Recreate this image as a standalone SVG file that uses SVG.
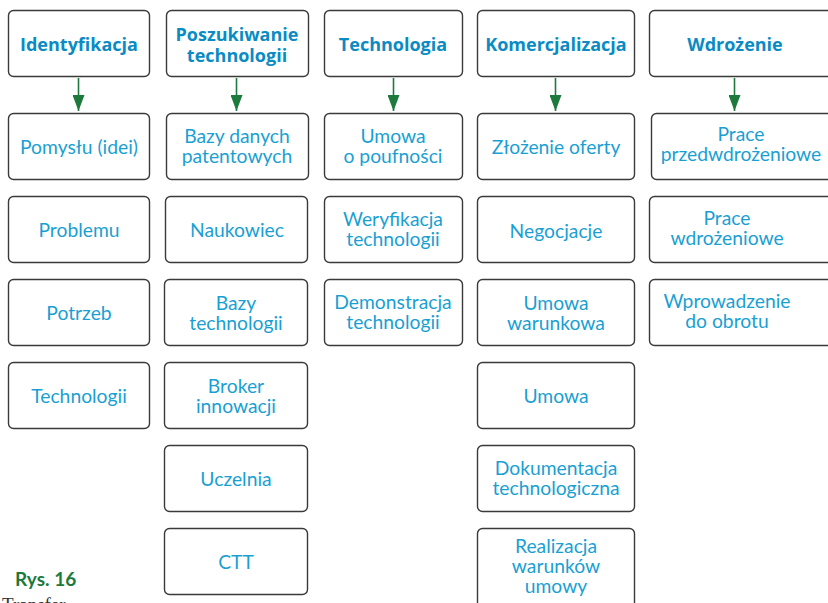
<svg xmlns="http://www.w3.org/2000/svg" width="828" height="603" viewBox="0 0 828 603">
  <style>
    .box { fill: #ffffff; stroke: #3a3a3a; stroke-width: 1.4; }
    .hd { font-family: "Open Sans", "Liberation Sans", sans-serif; font-weight: 700; font-size: 18px; fill: #0a8bc4; text-anchor: middle; }
    .tx { font-family: Lato, "Liberation Sans", sans-serif; font-size: 19.3px; fill: #1a9fd3; text-anchor: middle; }
    .arr { stroke: #1b7a3c; stroke-width: 1.6; fill: none; }
    .cap { font-family: Lato, "Liberation Sans", sans-serif; font-weight: 700; font-size: 19px; fill: #1b7a3c; }
    .sub { font-family: "Liberation Serif", serif; font-size: 19px; fill: #333333; }
  </style>
  <defs>
    <marker id="tri" viewBox="0 0 16 12" markerWidth="16" markerHeight="12" refX="16" refY="6" orient="auto" markerUnits="userSpaceOnUse">
      <path d="M0,0 L16,6 L0,12 Z" fill="#1b7a3c"/>
    </marker>
  </defs>

  <!-- Column 1: Identyfikacja -->
  <g id="identyfikacja"><rect class="box" x="8.5" y="10.5" width="141" height="66" rx="5"/><text class="hd" x="79" y="51">Identyfikacja</text></g>
  <g id="pomyslu"><rect class="box" x="8.5" y="113.5" width="141" height="66" rx="5"/><text class="tx" x="79" y="154">Pomysłu (idei)</text></g>
  <g id="problemu"><rect class="box" x="8.5" y="196.5" width="141" height="66" rx="5"/><text class="tx" x="79" y="237">Problemu</text></g>
  <g id="potrzeb"><rect class="box" x="8.5" y="279.5" width="141" height="66" rx="5"/><text class="tx" x="79" y="320">Potrzeb</text></g>
  <g id="technologii"><rect class="box" x="8.5" y="362.5" width="141" height="66" rx="5"/><text class="tx" x="79" y="403">Technologii</text></g>

  <!-- Column 2: Poszukiwanie technologii -->
  <g id="poszukiwanie"><rect class="box" x="166.5" y="10.5" width="142" height="66" rx="5"/><text class="hd" x="237" y="41">Poszukiwanie</text><text class="hd" x="237" y="62">technologii</text></g>
  <g id="bazy-patentowe"><rect class="box" x="166.5" y="113.5" width="142" height="66" rx="5"/><text class="tx" x="237" y="143">Bazy danych</text><text class="tx" x="237" y="163">patentowych</text></g>
  <g id="naukowiec"><rect class="box" x="165.5" y="196.5" width="142" height="66" rx="5"/><text class="tx" x="237" y="237">Naukowiec</text></g>
  <g id="bazy-technologii"><rect class="box" x="164.5" y="279.5" width="143" height="66" rx="5"/><text class="tx" x="236" y="310">Bazy</text><text class="tx" x="236" y="330">technologii</text></g>
  <g id="broker"><rect class="box" x="164.5" y="362.5" width="143" height="66" rx="5"/><text class="tx" x="236" y="393">Broker</text><text class="tx" x="236" y="413">innowacji</text></g>
  <g id="uczelnia"><rect class="box" x="164.5" y="445.5" width="143" height="66" rx="5"/><text class="tx" x="236" y="486">Uczelnia</text></g>
  <g id="ctt"><rect class="box" x="164.5" y="528.5" width="143" height="66" rx="5"/><text class="tx" x="236" y="569">CTT</text></g>

  <!-- Column 3: Technologia -->
  <g id="technologia"><rect class="box" x="324.5" y="10.5" width="138" height="66" rx="5"/><text class="hd" x="393" y="51">Technologia</text></g>
  <g id="umowa-poufnosci"><rect class="box" x="324.5" y="113.5" width="138" height="66" rx="5"/><text class="tx" x="393" y="143">Umowa</text><text class="tx" x="393" y="163">o poufności</text></g>
  <g id="weryfikacja"><rect class="box" x="324.5" y="196.5" width="138" height="66" rx="5"/><text class="tx" x="393" y="226">Weryfikacja</text><text class="tx" x="393" y="246">technologii</text></g>
  <g id="demonstracja"><rect class="box" x="324.5" y="279.5" width="138" height="66" rx="5"/><text class="tx" x="393" y="309">Demonstracja</text><text class="tx" x="393" y="329">technologii</text></g>

  <!-- Column 4: Komercjalizacja -->
  <g id="komercjalizacja"><rect class="box" x="477.5" y="10.5" width="157" height="66" rx="5"/><text class="hd" x="556" y="51">Komercjalizacja</text></g>
  <g id="zlozenie-oferty"><rect class="box" x="477.5" y="113.5" width="157" height="66" rx="5"/><text class="tx" x="556" y="154">Złożenie oferty</text></g>
  <g id="negocjacje"><rect class="box" x="477.5" y="196.5" width="157" height="66" rx="5"/><text class="tx" x="556" y="238">Negocjacje</text></g>
  <g id="umowa-warunkowa"><rect class="box" x="477.5" y="279.5" width="157" height="66" rx="5"/><text class="tx" x="556" y="310">Umowa</text><text class="tx" x="556" y="330">warunkowa</text></g>
  <g id="umowa"><rect class="box" x="477.5" y="362.5" width="157" height="66" rx="5"/><text class="tx" x="556" y="403">Umowa</text></g>
  <g id="dokumentacja"><rect class="box" x="477.5" y="445.5" width="157" height="66" rx="5"/><text class="tx" x="556" y="475">Dokumentacja</text><text class="tx" x="556" y="495">technologiczna</text></g>
  <g id="realizacja"><rect class="box" x="477.5" y="528.5" width="157" height="80" rx="5"/><text class="tx" x="556" y="553">Realizacja</text><text class="tx" x="556" y="573">warunków</text><text class="tx" x="556" y="593">umowy</text></g>

  <!-- Column 5: Wdrożenie -->
  <g id="wdrozenie"><rect class="box" x="649.5" y="10.5" width="190" height="66" rx="5"/><text class="hd" x="735" y="51">Wdrożenie</text></g>
  <g id="prace-przedwdrozeniowe"><rect class="box" x="651.5" y="113.5" width="190" height="66" rx="5"/><text class="tx" x="741" y="141">Prace</text><text class="tx" x="741" y="161">przedwdrożeniowe</text></g>
  <g id="prace-wdrozeniowe"><rect class="box" x="649.5" y="196.5" width="190" height="66" rx="5"/><text class="tx" x="727" y="225">Prace</text><text class="tx" x="727" y="245">wdrożeniowe</text></g>
  <g id="wprowadzenie"><rect class="box" x="649.5" y="279.5" width="190" height="66" rx="5"/><text class="tx" x="727" y="308">Wprowadzenie</text><text class="tx" x="727" y="328">do obrotu</text></g>

  <!-- Connectors: header to first item -->
  <g id="connectors">
    <line class="arr" x1="78.5" y1="78" x2="78.5" y2="111" marker-end="url(#tri)"/>
    <line class="arr" x1="236.5" y1="78" x2="236.5" y2="111" marker-end="url(#tri)"/>
    <line class="arr" x1="393.5" y1="78" x2="393.5" y2="111" marker-end="url(#tri)"/>
    <line class="arr" x1="555.5" y1="78" x2="555.5" y2="111" marker-end="url(#tri)"/>
    <line class="arr" x1="734.5" y1="78" x2="734.5" y2="111" marker-end="url(#tri)"/>
  </g>

  <!-- Caption -->
  <text class="cap" x="15" y="586">Rys. 16</text>
  <text class="sub" x="2" y="611">Transfer</text>
</svg>
